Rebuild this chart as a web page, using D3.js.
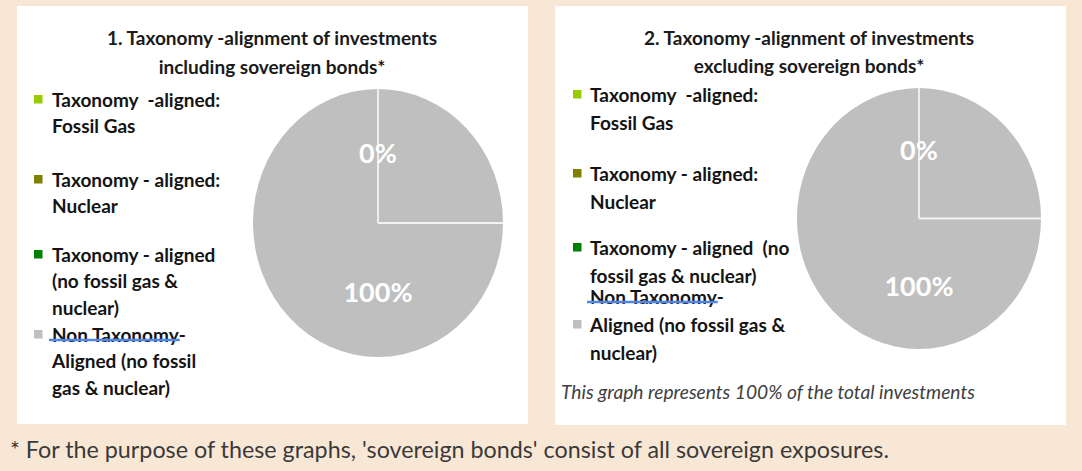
<!DOCTYPE html>
<html>
<head>
<meta charset="utf-8">
<script src="https://cdn.jsdelivr.net/npm/d3@7"></script>
<style>
  html, body { margin: 0; padding: 0; background: #f9e7d6; }
  svg { display: block; }
  text { font-family: Lato, "Open Sans", "DejaVu Sans", sans-serif; }
</style>
</head>
<body>
<svg id="chart" width="1082" height="471"></svg>
<script>
// ---- data ----
const categories = [
  "Taxonomy-aligned: Fossil Gas",
  "Taxonomy-aligned: Nuclear",
  "Taxonomy-aligned (no fossil gas & nuclear)",
  "Non Taxonomy-Aligned (no fossil gas & nuclear)"
];
const colors = ["#99cc00", "#7f7f00", "#008000", "#bfbfbf"];
const valuesInclSovereign = [0, 0, 0, 100];
const valuesExclSovereign = [0, 0, 0, 100];

const titlesIncl = ["1. Taxonomy -alignment of investments", "including sovereign bonds*"];
const titlesExcl = ["2. Taxonomy -alignment of investments", "excluding sovereign bonds*"];

// legend text as wrapped in each panel
const legendLinesIncl = [
  ["Taxonomy  -aligned:", "Fossil Gas"],
  ["Taxonomy - aligned:", "Nuclear"],
  ["Taxonomy - aligned", "(no fossil gas &", "nuclear)"],
  ["Non Taxonomy-", "Aligned (no fossil", "gas & nuclear)"]
];
const legendLinesExcl = [
  ["Taxonomy  -aligned:", "Fossil Gas"],
  ["Taxonomy - aligned:", "Nuclear"],
  ["Taxonomy - aligned  (no", "fossil gas & nuclear)"],
  ["Non Taxonomy-", "Aligned (no fossil gas &", "nuclear)"]
];

const noteText = "This graph represents 100% of the total investments";
const footnoteText = "* For the purpose of these graphs, 'sovereign bonds' consist of all sovereign exposures.";

// ---- drawing ----
const svg = d3.select("#chart");

const panels = [
  {
    x: 17, y: 6, w: 511, h: 418,
    titles: titlesIncl, titleX: 272, titleY: [45, 74],
    values: valuesInclSovereign, legend: legendLinesIncl,
    cx: 378, cy: 223, rx: 125, ry: 134,
    legX: 34, textX: 52, entryY: [100, 180, 255, 335], lineH: 26.5, markerLine: [0, 0, 0, 0],
    note: null
  },
  {
    x: 555, y: 6, w: 511, h: 419,
    titles: titlesExcl, titleX: 809, titleY: [45, 73],
    values: valuesExclSovereign, legend: legendLinesExcl,
    cx: 919, cy: 218.5, rx: 122, ry: 130.5,
    legX: 573, textX: 590, entryY: [95, 174, 248, 297], lineH: 28, markerLine: [0, 0, 0, 1],
    note: { x: 561, y: 399 }
  }
];

const pie = d3.pie().sort(null).value(d => d);

panels.forEach(p => {
  const g = svg.append("g");

  g.append("rect")
    .attr("x", p.x).attr("y", p.y).attr("width", p.w).attr("height", p.h)
    .attr("fill", "#ffffff");

  // title
  g.selectAll("text.title").data(p.titles).join("text")
    .attr("class", "title")
    .attr("x", p.titleX).attr("y", (d, i) => p.titleY[i])
    .attr("text-anchor", "middle")
    .attr("font-size", 19).attr("font-weight", 700)
    .attr("fill", "#1a1a1a")
    .text(d => d);

  // pie (drawn as a circle, then stretched to the ellipse of the panel)
  const arcs = pie(p.values);
  const arc = d3.arc().innerRadius(0).outerRadius(p.rx);
  const sy = p.ry / p.rx;
  const pg = g.append("g").attr("transform", `translate(${p.cx},${p.cy}) scale(1,${sy})`);
  pg.selectAll("path").data(arcs).join("path")
    .attr("d", arc)
    .attr("fill", (d, i) => colors[i]);

  // quadrant guides drawn over the pie
  const guideAngles = [0, Math.PI / 2];
  pg.selectAll("line.guide").data(guideAngles).join("line")
    .attr("class", "guide")
    .attr("x1", 0).attr("y1", 0)
    .attr("x2", a => Math.sin(a) * p.rx)
    .attr("y2", a => -Math.cos(a) * p.rx)
    .attr("stroke", "#f2f2f2").attr("stroke-width", 1.8)
    .attr("vector-effect", "non-scaling-stroke");

  // data labels
  const labelArc = d3.arc().innerRadius(p.rx * 0.52).outerRadius(p.rx * 0.52);
  const fmt = v => d3.format(".0f")(v) + "%";
  const seen = new Set();
  arcs.forEach(a => {
    const [lx, ly] = labelArc.centroid(a);
    const key = fmt(a.value) + Math.round(lx) + "," + Math.round(ly);
    if (seen.has(key)) return;
    seen.add(key);
    g.append("text")
      .attr("x", p.cx + lx)
      .attr("y", p.cy + ly * sy)
      .attr("dy", "0.36em")
      .attr("text-anchor", "middle")
      .attr("font-size", 27).attr("font-weight", 700)
      .attr("fill", "#ffffff")
      .text(fmt(a.value));
  });

  // legend
  p.legend.forEach((lines, i) => {
    const top = p.entryY[i];
    const my = top + p.markerLine[i] * p.lineH;
    g.append("rect")
      .attr("x", p.legX).attr("y", my - 5).attr("width", 8.5).attr("height", 8.5)
      .attr("fill", colors[i]);
    lines.forEach((t, j) => {
      const txt = g.append("text")
        .attr("x", p.textX).attr("y", top + j * p.lineH)
        .attr("dy", "0.36em")
        .attr("font-size", 19).attr("font-weight", 700)
        .attr("fill", "#141414")
        .attr("xml:space", "preserve")
        .style("white-space", "pre")
        .text(t);
      if (i === 3 && j === 0) {
        const bb = txt.node().getBBox();
        g.append("line")
          .attr("x1", bb.x - 3).attr("x2", bb.x + bb.width - 6)
          .attr("y1", top + 5).attr("y2", top + 5)
          .attr("stroke", "#4f86e8").attr("stroke-width", 2.4);
      }
    });
  });

  if (p.note) {
    g.append("text")
      .attr("x", p.note.x).attr("y", p.note.y)
      .attr("font-size", 19.2).attr("font-style", "italic")
      .attr("fill", "#404040")
      .text(noteText);
  }
});

svg.append("text")
  .attr("x", 10).attr("y", 458)
  .attr("font-size", 23.3)
  .attr("fill", "#3a3a3a")
  .text(footnoteText);
</script>
</body>
</html>
